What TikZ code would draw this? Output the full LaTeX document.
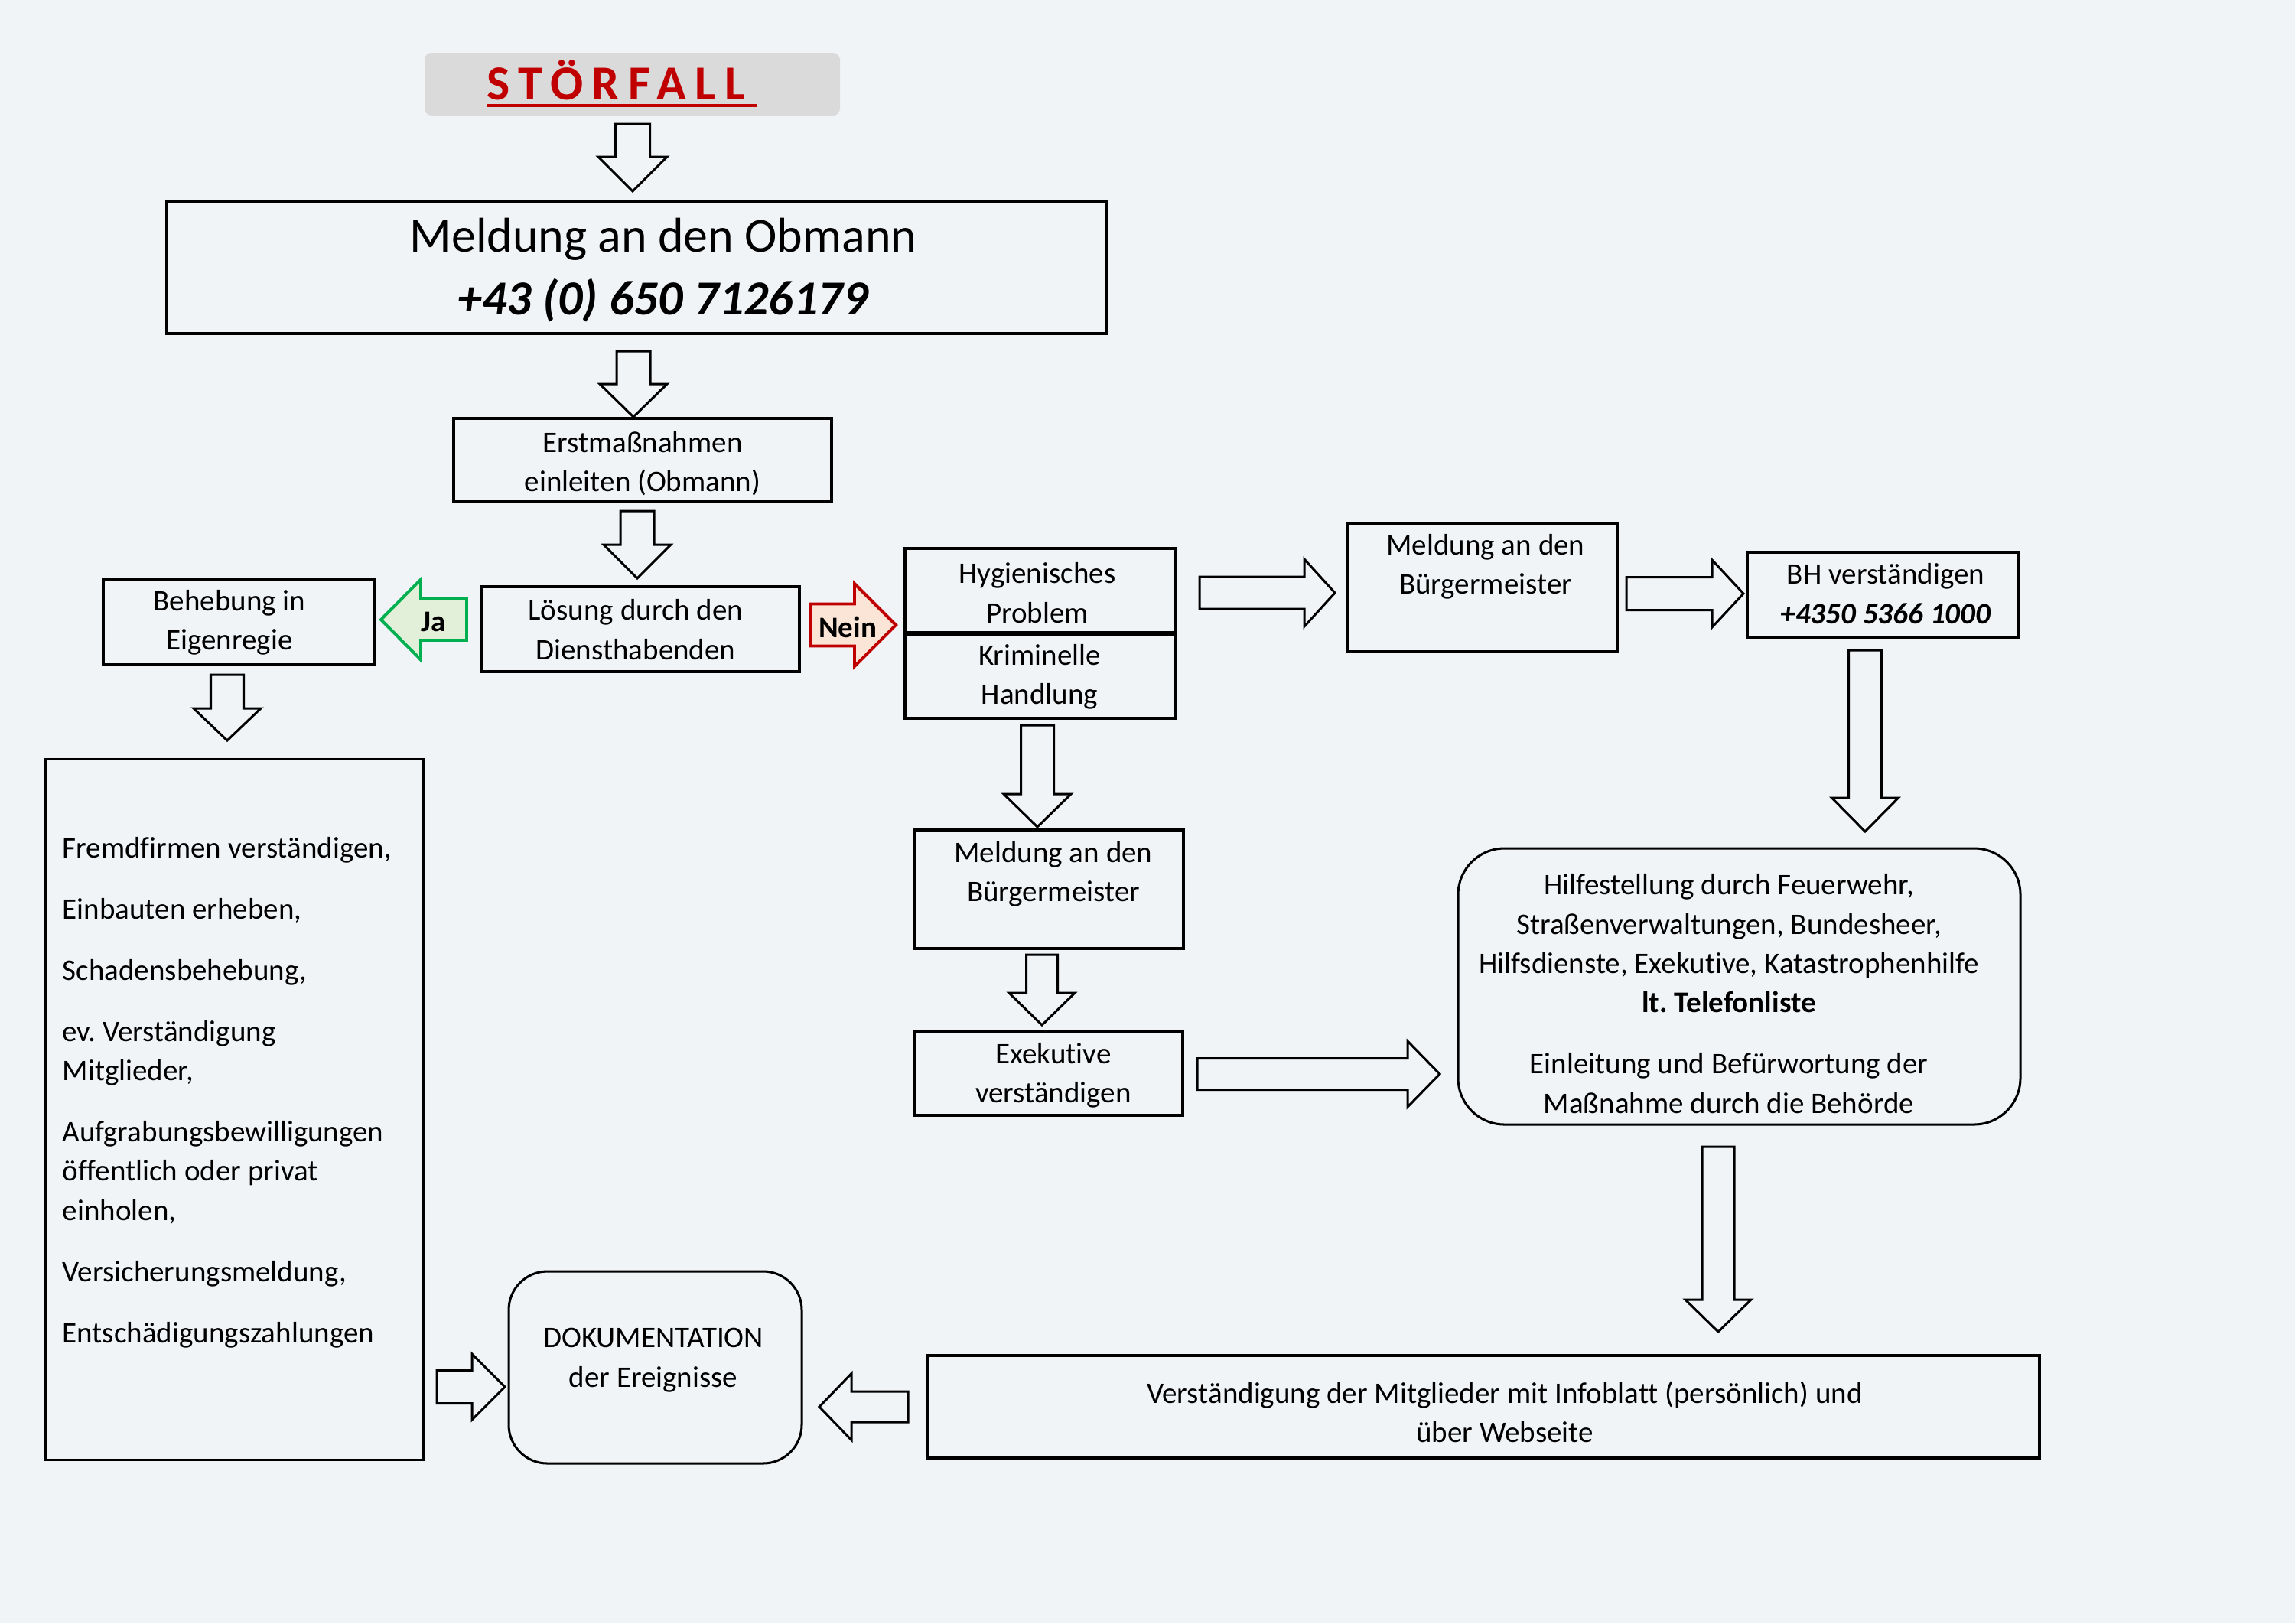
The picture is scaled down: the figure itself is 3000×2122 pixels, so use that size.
\documentclass[tikz,border=0pt]{standalone}
\usepackage{fontspec}
\setmainfont{Carlito}[Ligatures={NoCommon}]
\frenchspacing
\definecolor{bg}{RGB}{241,244,247}
\definecolor{stoergray}{RGB}{218,218,218}
\definecolor{stoerred}{RGB}{192,0,0}
\definecolor{jagreen}{RGB}{0,176,80}
\definecolor{jafill}{RGB}{226,240,217}
\definecolor{neinfill}{RGB}{251,229,214}
\newcommand\normsize{\fontsize{11}{14.5}\selectfont}
% block arrow: x, y (tail centre), angle, length, shaft half width, head half width, head length, style
\newcommand\blockarrow[8]{%
  \draw[#8, shift={(#1,#2)}, rotate=#3]
    (0,-#5) -- ({#4-#7},-#5) -- ({#4-#7},-#6) -- (#4,0) -- ({#4-#7},#6) -- ({#4-#7},#5) -- (0,#5) -- cycle;}
% box node from corner coordinates: style, x1, y1, x2, y2, name
\newcommand\boxnode[6]{%
  \node[#1, minimum width={(#4-#2)*0.0099cm}, minimum height={(#5-#3)*0.0099cm}] (#6) at ({(#2+#4)/2},{(#3+#5)/2}) {};}
\begin{document}
\begin{tikzpicture}[x=0.0099cm, y=-0.0099cm,
  box/.style={draw, line width=1pt, rectangle, inner sep=0pt},
  thinbox/.style={draw, line width=0.85pt, rectangle, inner sep=0pt},
  txt/.style={inner sep=0pt, align=center, font=\normsize},
  blk/.style={draw, line width=0.85pt, line join=miter},
  ]
\useasboundingbox[fill=bg] (0,0) rectangle (3000,2122);

% STÖRFALL
\boxnode{rectangle, fill=stoergray, rounded corners=0.09cm}{555}{69}{1098}{151}{stoer}
\node[inner sep=0pt, anchor=base west, text=stoerred, font=\fontsize{18}{22}\selectfont\bfseries\addfontfeature{LetterSpace=18}] (stoerT) at (636,130) {STÖRFALL};
\draw[stoerred, line width=1.1pt] (636,138) -- (989,138);

% boxes
\boxnode{box}{218}{264}{1446}{436}{obm}
\node[inner sep=0pt, align=center, font=\fontsize{18}{23.3}\selectfont] (obmT) at (867,353) {Meldung an den Obmann\\\textbf{\textit{+43 (0) 650 7126179}}};

\boxnode{box}{593}{547}{1087}{656}{erst}
\node[txt] (erstT) at (840,606) {Erstmaßnahmen\\einleiten (Obmann)};

\boxnode{box}{629}{767}{1045}{878}{loes}
\node[txt] (loesT) at (831,823) {Lösung durch den\\Diensthabenden};

\boxnode{box}{135}{758}{489}{869}{beh}
\node[txt] (behT) at (300,814) {Behebung in\\Eigenregie};

\boxnode{box}{1183}{717}{1536}{829}{hyg}
\boxnode{box}{1183}{827}{1536}{939}{krim}
\node[txt] (hygT) at (1356,775) {Hygienisches\\Problem};
\node[txt] (krimT) at (1359,885) {Kriminelle\\Handlung};

\boxnode{box}{1761}{684}{2114}{852}{bmA}
\node[txt] (bmAT) at (1942,741) {Meldung an den\\Bürgermeister};

\boxnode{box}{2284}{722}{2638}{833}{bh}
\node[txt] (bhT) at (2465,776) {BH verständigen\\\textbf{\textit{+4350 5366 1000}}};

\boxnode{box}{1195}{1085}{1547}{1240}{bmB}
\node[txt] (bmBT) at (1377,1143) {Meldung an den\\Bürgermeister};

\boxnode{box}{1195}{1348}{1546}{1458}{exe}
\node[txt] (exeT) at (1377,1406) {Exekutive\\verständigen};

\boxnode{thinbox, rounded corners=0.6cm}{1906}{1109}{2641}{1470}{hilf}
\node[txt] (hilfT) at (2260,1299) {Hilfestellung durch Feuerwehr,\\Straßenverwaltungen, Bundesheer,\\Hilfsdienste, Exekutive, Katastrophenhilfe\\\textbf{lt. Telefonliste}\\[8pt]Einleitung und Befürwortung der\\Maßnahme durch die Behörde};

\boxnode{box}{1212}{1772}{2666}{1906}{vers}
\node[txt] (versT) at (1967,1846) {Verständigung der Mitglieder mit Infoblatt (persönlich) und\\über Webseite};

\boxnode{thinbox, rounded corners=0.5cm}{665}{1662}{1048}{1913}{doku}
\node[txt] (dokuT) at (854,1778) {DOKUMENTATION\\der Ereignisse};

\boxnode{thinbox}{59}{992}{553}{1908}{big}
\node[txt, align=left, anchor=west] (bigT) at (81,1428) {Fremdfirmen verständigen,\\[8pt]Einbauten erheben,\\[8pt]Schadensbehebung,\\[8pt]ev. Verständigung\\Mitglieder,\\[8pt]Aufgrabungsbewilligungen\\öffentlich oder privat\\einholen,\\[8pt]Versicherungsmeldung,\\[8pt]Entschädigungszahlungen};

% block arrows
\blockarrow{827}{162}{-90}{88}{22.5}{45}{45}{blk}
\blockarrow{828}{459}{-90}{86}{22}{44}{43}{blk}
\blockarrow{833}{668}{-90}{88}{22}{44}{44}{blk}
\blockarrow{610}{810}{180}{112}{27}{52.5}{52}{blk, draw=jagreen, fill=jafill, line width=1.1pt}
\blockarrow{1059}{817}{0}{112}{27.5}{54}{54}{blk, draw=stoerred, fill=neinfill, line width=1.1pt}
\node[inner sep=0pt, font=\normsize\bfseries] (ja) at (567,813) {Ja};
\node[inner sep=0pt, font=\normsize\bfseries] (nein) at (1108,820) {Nein};
\blockarrow{297}{882}{-90}{86}{21.5}{44}{42}{blk}
\blockarrow{1568}{775}{0}{177}{21}{44}{40}{blk}
\blockarrow{2126}{776}{0}{153}{21.5}{44}{41}{blk}
\blockarrow{2438}{850}{-90}{237}{21.5}{43.5}{44}{blk}
\blockarrow{1356}{948}{-90}{133}{21.5}{44}{43}{blk}
\blockarrow{1362}{1248}{-90}{92}{20.5}{43}{42}{blk}
\blockarrow{1565}{1404}{0}{317}{20.5}{43}{42}{blk}
\blockarrow{2246}{1499}{-90}{242}{21}{43}{42}{blk}
\blockarrow{1187}{1839}{180}{116}{20}{43.5}{42}{blk}
\blockarrow{571}{1813}{0}{89}{21.5}{43}{43}{blk}
\end{tikzpicture}
\end{document}
